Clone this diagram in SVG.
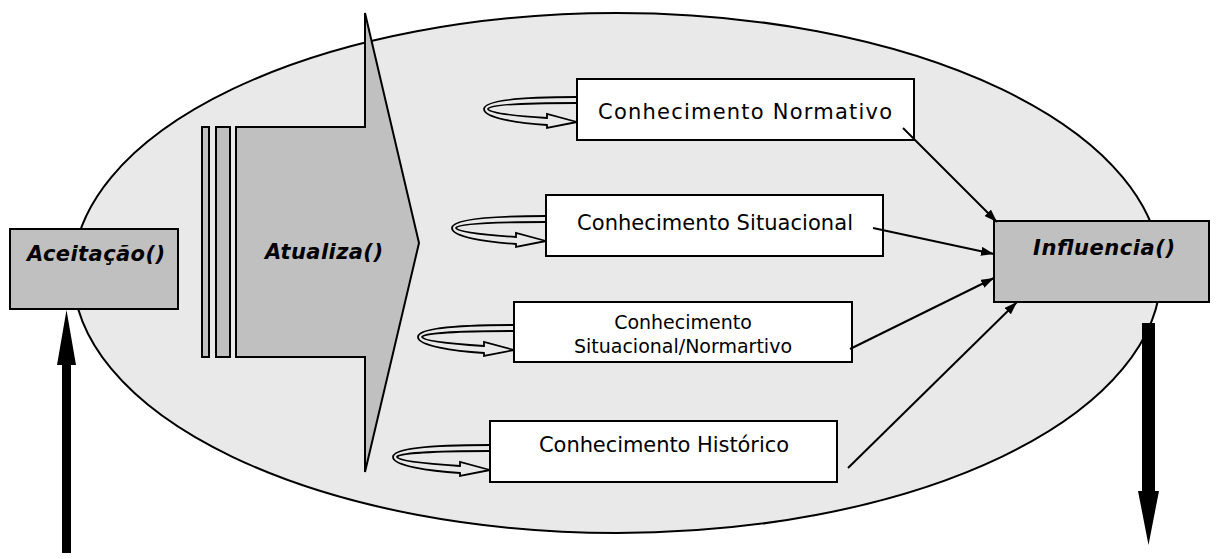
<svg xmlns="http://www.w3.org/2000/svg" width="1216" height="559" viewBox="0 0 1216 559">
<style>
.bg{fill:#e9e9e9;stroke:#000;stroke-width:2}
.gbox{fill:#c0c0c0;stroke:#000;stroke-width:2}
.wbox{fill:#fff;stroke:#000;stroke-width:2}
.loop{fill:#e9e9e9;stroke:#000;stroke-width:1.8;stroke-linejoin:miter}
.t{font-family:"DejaVu Sans",Verdana,sans-serif;font-size:21px;fill:#000}
.ts{font-family:"DejaVu Sans",Verdana,sans-serif;font-size:19px;fill:#000}
.tb{font-family:"DejaVu Sans",Verdana,sans-serif;font-size:21px;font-weight:bold;font-style:italic;fill:#000}
.con{stroke:#000;stroke-width:2;fill:none}
</style>
<defs>
<marker id="ah" viewBox="0 0 13 9" refX="13" refY="4.5" markerWidth="13" markerHeight="9" markerUnits="userSpaceOnUse" orient="auto">
<path d="M0,0 L13,4.5 L0,9 Z" fill="#000"/>
</marker>
</defs>
<ellipse class="bg" cx="617" cy="273" rx="544" ry="260"/>

<g id="atualiza">
<rect class="gbox" x="202" y="127" width="7" height="230"/>
<rect class="gbox" x="216" y="127" width="14" height="230"/>
<path class="gbox" d="M236,127 L365,127 L365,13 L419,243 L365,472 L365,357 L236,357 Z"/>
<text class="tb" x="324" y="259" text-anchor="middle" textLength="118" lengthAdjust="spacing">Atualiza()</text>
</g>

<g id="aceitacao">
<rect class="gbox" x="10" y="229" width="168" height="80"/>
<text class="tb" x="96" y="261" text-anchor="middle" textLength="138" lengthAdjust="spacing">Aceitação()</text>
</g>

<g id="influencia">
<rect class="gbox" x="994" y="221" width="215" height="81"/>
<text class="tb" x="1104" y="255" text-anchor="middle" textLength="142" lengthAdjust="spacing">Influencia()</text>
</g>

<g id="loops">
<path class="loop" d="M577,97 C522,97 484,100 484,109 C484,118 517,123 547,125 L547,128 L577,122 L547,114 L547,118 C517,116 489,113 488,109 C489,105 522,103 577,103"/>
<path class="loop" d="M546,216 C491,216 452,219 452,228 C452,237 486,242 516,244 L516,247 L546,241 L516,233 L516,237 C486,235 457,232 456,228 C457,224 491,222 546,222"/>
<path class="loop" d="M514,325 C459,325 418,328 418,337 C418,346 454,351 484,353 L484,356 L514,350 L484,342 L484,346 C454,344 423,341 422,337 C423,333 459,331 514,331"/>
<path class="loop" d="M490,445 C435,445 393,448 393,457 C393,466 430,471 460,473 L460,476 L490,470 L460,462 L460,466 C430,464 398,461 397,457 C398,453 435,451 490,451"/>
</g>

<g id="k-normativo">
<rect class="wbox" x="577" y="79" width="337" height="61"/>
<text class="t" x="745" y="119" text-anchor="middle" textLength="294" lengthAdjust="spacing">Conhecimento Normativo</text>
</g>
<g id="k-situacional">
<rect class="wbox" x="546" y="195" width="337" height="61"/>
<text class="t" x="715" y="230" text-anchor="middle" textLength="276" lengthAdjust="spacing">Conhecimento Situacional</text>
</g>
<g id="k-sitnorm">
<rect class="wbox" x="514" y="302" width="338" height="60"/>
<text class="ts" x="683" y="329" text-anchor="middle">Conhecimento</text>
<text class="ts" x="683" y="353" text-anchor="middle">Situacional/Normartivo</text>
</g>
<g id="k-historico">
<rect class="wbox" x="490" y="421" width="347" height="61"/>
<text class="t" x="664" y="452" text-anchor="middle" textLength="250" lengthAdjust="spacing">Conhecimento Histórico</text>
</g>

<g id="connectors">
<line class="con" x1="903" y1="128" x2="997" y2="222" marker-end="url(#ah)"/>
<line class="con" x1="873" y1="228" x2="994" y2="254" marker-end="url(#ah)"/>
<line class="con" x1="850" y1="349" x2="994" y2="278" marker-end="url(#ah)"/>
<line class="con" x1="848" y1="468" x2="1017" y2="302" marker-end="url(#ah)"/>
<path d="M62,553 L62,365 L57,365 L66.5,310 L76,365 L71,365 L71,553 Z" fill="#000"/>
<path d="M1142,323 L1155,323 L1155,491 L1159,491 L1148.5,545 L1138,491 L1142,491 Z" fill="#000"/>
</g>
</svg>
